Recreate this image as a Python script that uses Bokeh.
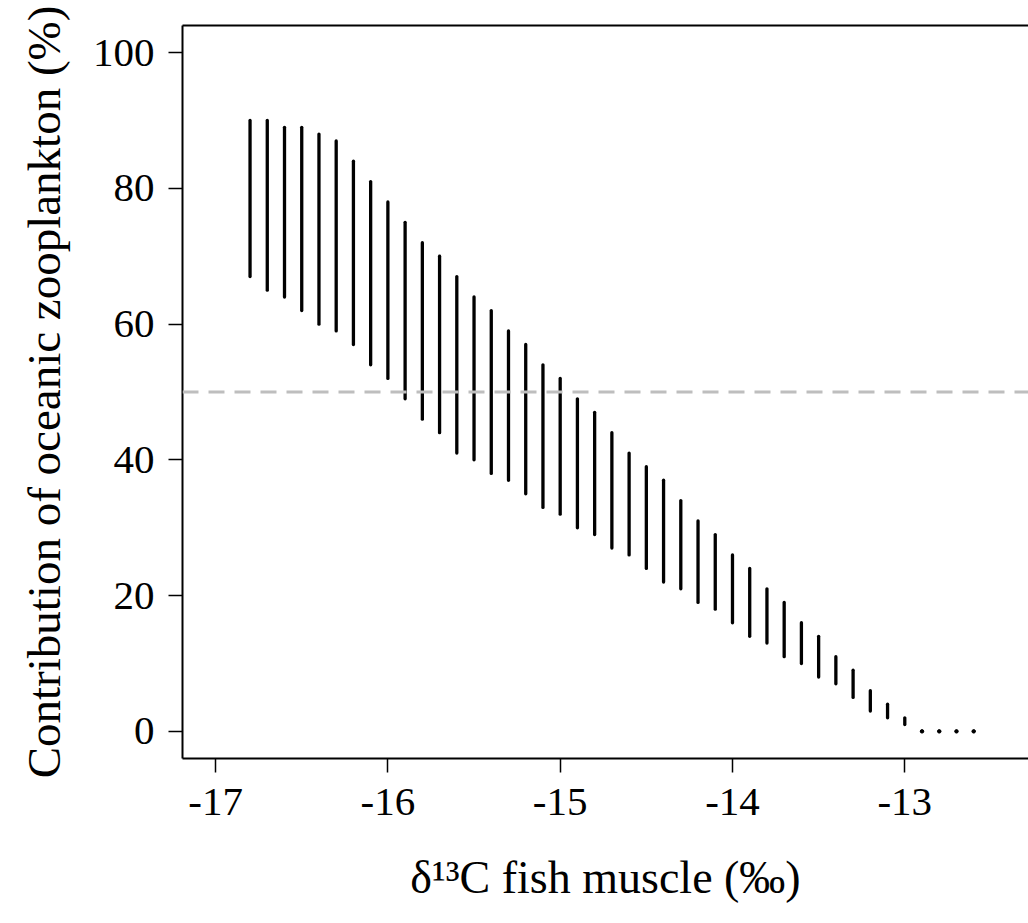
from bokeh.plotting import figure
from bokeh.models import Range1d, LinearAxis, FixedTicker, Span, ColumnDataSource
from bokeh.embed import file_html
from bokeh.resources import INLINE

# Data: d13C of fish muscle and range of oceanic zooplankton contribution (%)
d13c = [-16.8, -16.7, -16.6, -16.5, -16.4, -16.3, -16.2, -16.1, -16.0, -15.9,
        -15.8, -15.7, -15.6, -15.5, -15.4, -15.3, -15.2, -15.1, -15.0, -14.9,
        -14.8, -14.7, -14.6, -14.5, -14.4, -14.3, -14.2, -14.1, -14.0, -13.9,
        -13.8, -13.7, -13.6, -13.5, -13.4, -13.3, -13.2, -13.1, -13.0,
        -12.9, -12.8, -12.7, -12.6]
contrib_high = [90, 90, 89, 89, 88, 87, 84, 81, 78, 75,
                72, 70, 67, 64, 62, 59, 57, 54, 52, 49,
                47, 44, 41, 39, 37, 34, 31, 29, 26, 24,
                21, 19, 16, 14, 11, 9, 6, 4, 2,
                0, 0, 0, 0]
contrib_low = [67, 65, 64, 62, 60, 59, 57, 54, 52, 49,
               46, 44, 41, 40, 38, 37, 35, 33, 32, 30,
               29, 27, 26, 24, 22, 21, 19, 18, 16, 14,
               13, 11, 10, 8, 7, 5, 3, 2, 1,
               0, 0, 0, 0]
x_ticks = [-17, -16, -15, -14, -13]
y_ticks = [0, 20, 40, 60, 80, 100]
threshold = 50

FONT = "Liberation Serif"

p = figure(width=1028, height=923, output_backend="svg", toolbar_location=None,
           x_range=Range1d(-17.192, -12.282), y_range=Range1d(-4, 104),
           min_border_left=182, min_border_top=25, min_border_bottom=165,
           min_border_right=0)
p.outline_line_color = None
p.grid.visible = False
p.background_fill_color = "white"
p.border_fill_color = "white"

# axes
for ax in [p.xaxis[0], p.yaxis[0]]:
    ax.axis_line_color = "black"
    ax.axis_line_width = 2
    ax.major_tick_line_color = "black"
    ax.major_tick_line_width = 1.5
    ax.major_tick_in = 0
    ax.major_tick_out = 14
    ax.minor_tick_line_color = None
    ax.major_label_text_font = FONT
    ax.major_label_text_font_size = "41px"
    ax.major_label_text_color = "black"
    ax.axis_label_text_font = FONT
    ax.axis_label_text_font_style = "normal"
    ax.axis_label_text_color = "black"

p.xaxis[0].ticker = FixedTicker(ticks=x_ticks)
p.xaxis[0].major_label_overrides = {t: "-" + str(abs(t)) for t in x_ticks}
p.xaxis[0].major_label_standoff = 16
p.xaxis[0].axis_label = "δ¹³C fish muscle (‰)"
p.xaxis[0].axis_label_text_font_size = "46px"
p.xaxis[0].axis_label_standoff = 34

p.yaxis[0].ticker = FixedTicker(ticks=y_ticks)
p.yaxis[0].major_label_orientation = "horizontal"
p.yaxis[0].major_label_standoff = 14
p.yaxis[0].axis_label = "Contribution of oceanic zooplankton (%)"
p.yaxis[0].axis_label_text_font_size = "47px"
p.yaxis[0].axis_label_standoff = 20

# top frame line
top = LinearAxis(ticker=FixedTicker(ticks=[]), axis_line_color="black", axis_line_width=2,
                 major_tick_line_color=None, minor_tick_line_color=None,
                 major_label_text_font_size="0px")
p.add_layout(top, "above")

# 50% reference line
p.add_layout(Span(location=threshold, dimension="width", line_color="#BEBEBE",
                  line_width=3, line_dash="16 10"))

src = ColumnDataSource(dict(x=d13c, lo=contrib_low, hi=contrib_high))
p.segment(x0="x", y0="lo", x1="x", y1="hi", source=src, line_color="black",
          line_width=3.3, line_cap="round")

pts = [(x, l) for x, l, h in zip(d13c, contrib_low, contrib_high) if l == h]
p.scatter([t[0] for t in pts], [t[1] for t in pts], size=3.5, color="black")

open("out.html", "w").write(file_html(p, INLINE))
